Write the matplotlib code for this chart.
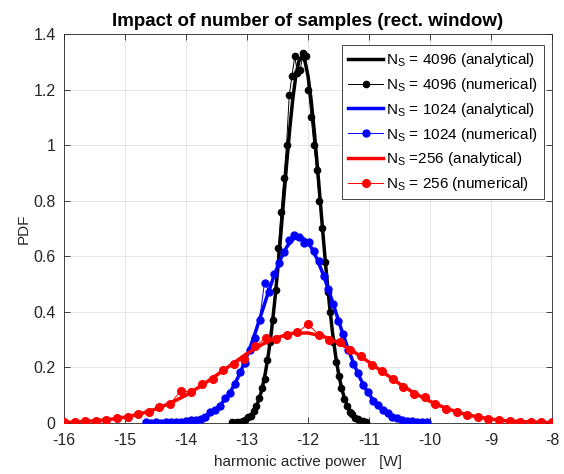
import numpy as np
import matplotlib.pyplot as plt

plt.rcParams['font.family'] = ['Liberation Sans', 'DejaVu Sans']
plt.rcParams['mathtext.fontset'] = 'custom'
plt.rcParams['mathtext.rm'] = 'Liberation Sans'

# --- analytical PDFs ---
x_ana_4096 = np.arange(45) * 0.05 - 13.25
y_ana_4096 = [0.001, 0.002, 0.003, 0.005, 0.009, 0.015, 0.024, 0.038, 0.058, 0.087,
              0.126, 0.179, 0.246, 0.329, 0.429, 0.543, 0.668, 0.801, 0.933, 1.057,
              1.165, 1.249, 1.302, 1.320, 1.302, 1.249, 1.165, 1.057, 0.933, 0.801,
              0.668, 0.543, 0.429, 0.329, 0.246, 0.179, 0.126, 0.087, 0.058, 0.038,
              0.024, 0.015, 0.009, 0.005, 0.003]

x_ana_1024 = np.arange(47) * 0.1 - 14.65
y_ana_1024 = [0.000, 0.000, 0.000, 0.001, 0.001, 0.002, 0.004, 0.007, 0.011, 0.018,
              0.028, 0.042, 0.062, 0.088, 0.121, 0.163, 0.213, 0.271, 0.335, 0.403,
              0.471, 0.534, 0.590, 0.633, 0.661, 0.670, 0.661, 0.633, 0.590, 0.534,
              0.471, 0.403, 0.335, 0.271, 0.213, 0.163, 0.121, 0.088, 0.062, 0.042,
              0.028, 0.018, 0.011, 0.007, 0.004, 0.002, 0.001]

x_ana_256 = np.arange(33) * 0.25 - 16
y_ana_256 = [0.002, 0.004, 0.008, 0.013, 0.021, 0.033, 0.050, 0.072, 0.100, 0.134,
             0.172, 0.211, 0.250, 0.283, 0.308, 0.323, 0.324, 0.312, 0.289, 0.257,
             0.219, 0.180, 0.141, 0.107, 0.078, 0.054, 0.036, 0.023, 0.014, 0.008,
             0.005, 0.003, 0.001]

# --- numerical (histogram) PDFs ---
x_num_4096 = np.linspace(-13.25, -11.05, 50)
y_num_4096 = [0.002, 0.001, 0.003, 0.004, 0.008, 0.010, 0.020, 0.025, 0.044, 0.062,
              0.090, 0.125, 0.160, 0.225, 0.290, 0.370, 0.480, 0.630, 0.760, 0.880,
              1.000, 1.180, 1.250, 1.320, 1.260, 1.270, 1.330, 1.320, 1.200, 1.100,
              1.000, 0.910, 0.800, 0.700, 0.580, 0.470, 0.400, 0.290, 0.220, 0.170,
              0.125, 0.088, 0.062, 0.040, 0.032, 0.018, 0.014, 0.007, 0.006, 0.003]

x_num_1024 = np.linspace(-14.65, -10.05, 58)
y_num_1024 = [0.002, 0.001, 0.002, 0.001, 0.002, 0.003, 0.004, 0.005, 0.006, 0.009,
              0.012, 0.016, 0.022, 0.038, 0.048, 0.062, 0.090, 0.108, 0.140, 0.185,
              0.216, 0.262, 0.305, 0.372, 0.505, 0.470, 0.535, 0.575, 0.615, 0.660,
              0.678, 0.668, 0.648, 0.650, 0.620, 0.582, 0.528, 0.482, 0.430, 0.368,
              0.320, 0.262, 0.212, 0.180, 0.135, 0.112, 0.080, 0.064, 0.045, 0.036,
              0.022, 0.018, 0.011, 0.008, 0.006, 0.003, 0.002, 0.002]

x_num_256 = np.linspace(-16, -8, 47)
y_num_256 = [0.003, 0.002, 0.006, 0.007, 0.012, 0.018, 0.021, 0.034, 0.040, 0.058,
             0.069, 0.115, 0.112, 0.140, 0.158, 0.192, 0.214, 0.230, 0.276, 0.305,
             0.302, 0.318, 0.326, 0.356, 0.318, 0.300, 0.290, 0.262, 0.241, 0.210,
             0.186, 0.160, 0.128, 0.104, 0.092, 0.068, 0.052, 0.041, 0.030, 0.022,
             0.015, 0.011, 0.008, 0.005, 0.004, 0.002, 0.002]

xticks = [-16, -15, -14, -13, -12, -11, -10, -9, -8]
yticks = [0, 0.2, 0.4, 0.6, 0.8, 1.0, 1.2, 1.4]
ytick_labels = ['0', '0.2', '0.4', '0.6', '0.8', '1', '1.2', '1.4']

fig = plt.figure(figsize=(5.64, 4.74), dpi=100)
ax = fig.add_axes([0.1135, 0.1076, 0.8652, 0.8207])

series = [
    (x_ana_4096, y_ana_4096, x_num_4096, y_num_4096, 'k', '4096', ' = 4096', 4.5),
    (x_ana_1024, y_ana_1024, x_num_1024, y_num_1024, 'b', '1024', ' = 1024', 5),
    (x_ana_256, y_ana_256, x_num_256, y_num_256, 'r', '256', ' =256', 5.5),
]
for xa, ya, xn, yn, c, n, lab, ms in series:
    ax.plot(xa, ya, color=c, lw=2.5, label=r'N$_\mathregular{S}$' + lab + ' (analytical)', zorder=3)
    ax.plot(xn, yn, color=c, lw=0.7, marker='o', ms=ms,
            label=r'N$_\mathregular{S}$ = ' + n + ' (numerical)', zorder=3)

ax.set_xlim(-16, -8)
ax.set_ylim(0, 1.4)
ax.set_xticks(xticks)
ax.set_xticklabels([str(t) for t in xticks])
ax.set_yticks(yticks)
ax.set_yticklabels(ytick_labels)
ax.tick_params(direction='in', top=True, right=True, length=4, width=0.6,
               labelsize=11.5, colors='#262626')
ax.tick_params(axis='x', pad=7)
ax.tick_params(axis='y', pad=6)
ax.grid(True, color='#e0e0e0', lw=0.6)
ax.set_axisbelow(True)
for s in ax.spines.values():
    s.set_color('#262626')
    s.set_linewidth(0.6)

ax.set_title('Impact of number of samples (rect. window)', fontsize=13.5, fontweight='bold', pad=6)
ax.set_xlabel('harmonic active power   [W]', fontsize=11, color='#262626', labelpad=5)
ax.set_ylabel('PDF', fontsize=11, color='#262626', labelpad=2)

leg = ax.legend(loc='upper right', bbox_to_anchor=(0.984, 0.972), borderaxespad=0,
                fontsize=11, fancybox=False, edgecolor='#262626', framealpha=1,
                handlelength=2.3, labelspacing=0.45, borderpad=0.4, handletextpad=0.2)
leg.get_frame().set_linewidth(0.6)

fig.savefig('out.png', dpi=100)
